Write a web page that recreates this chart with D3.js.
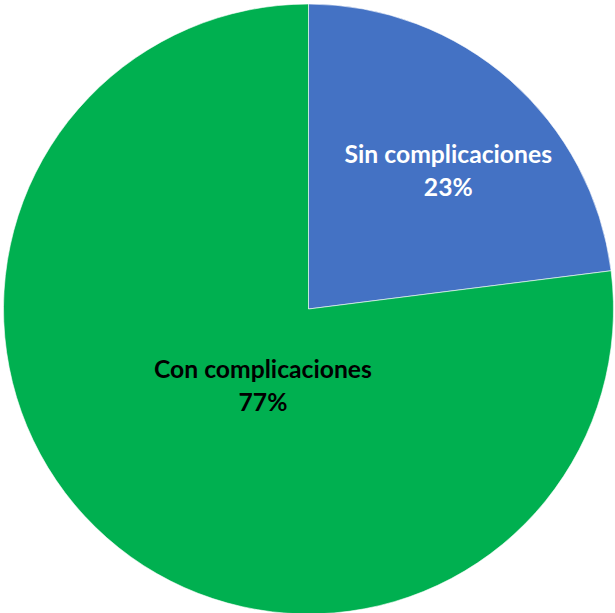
<!DOCTYPE html>
<html><head><meta charset="utf-8">
<script src="https://cdn.jsdelivr.net/npm/d3@7"></script>
<style>html,body{margin:0;padding:0;background:#fff;overflow:hidden}</style>
</head><body>
<svg id="chart" width="615" height="613"></svg>
<script>
const categories = ["Sin complicaciones", "Con complicaciones"];
const values = [23, 77];
const percentLabels = ["23%", "77%"];
const colors = ["#4472C4", "#00B050"];
const labelColors = ["#FFFFFF", "#000000"];

const svg = d3.select("#chart");
const cx = 308.5, cy = 309, R = 305;
const g = svg.append("g").attr("transform", `translate(${cx},${cy})`);

const data = categories.map((c, i) => ({cat: c, value: values[i], pct: percentLabels[i], i}));
const pie = d3.pie().value(d => d.value).sort(null).startAngle(0).endAngle(2 * Math.PI);
const arcs = pie(data);
const arc = d3.arc().innerRadius(0).outerRadius(R);

g.selectAll("path").data(arcs).enter().append("path")
  .attr("d", arc)
  .attr("fill", d => colors[d.data.i])
  .attr("stroke", "#ffffff")
  .attr("stroke-width", 0.6);

// label placement (polar: angle offset from slice mid, radius fraction)
const labelLayout = [
  {dAng: 3.8 * Math.PI / 180, rf: 0.646},
  {dAng: -10.4 * Math.PI / 180, rf: 0.29}
];
arcs.forEach((d, k) => {
  const mid = (d.startAngle + d.endAngle) / 2 + labelLayout[k].dAng;
  const [x, y] = d3.pointRadial(mid, R * labelLayout[k].rf);
  const t = g.append("text")
    .attr("x", x).attr("y", y)
    .attr("text-anchor", "middle")
    .attr("font-family", "Lato, 'Open Sans', sans-serif")
    .attr("font-weight", "bold")
    .attr("font-size", 24.7)
    .attr("fill", labelColors[d.data.i]);
  t.append("tspan").attr("x", x).attr("dy", "-0.28em").text(d.data.cat);
  t.append("tspan").attr("x", x).attr("dy", "1.32em").text(d.data.pct);
});
</script>
</body></html>
